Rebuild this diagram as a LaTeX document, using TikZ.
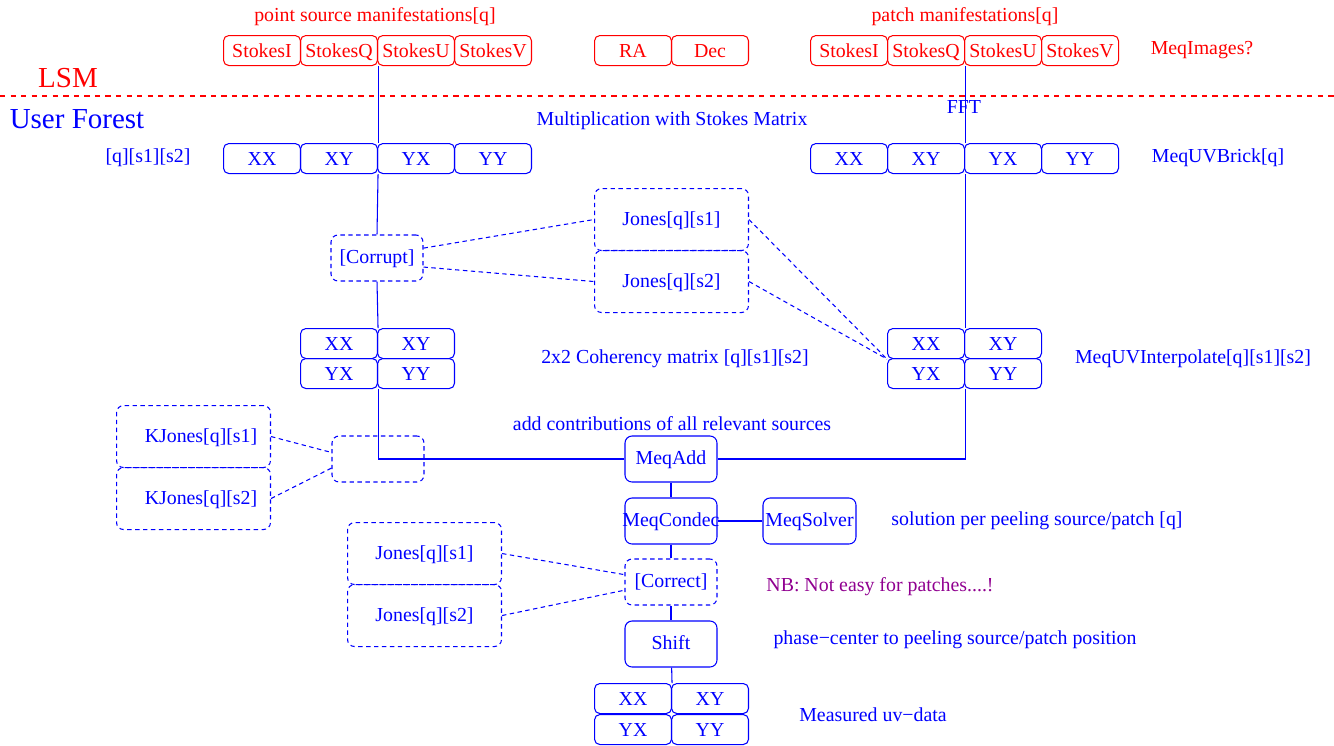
\documentclass[tikz,border=0pt]{standalone}
\usepackage{fontspec}
\setmainfont{Liberation Serif}
\definecolor{nbpurple}{RGB}{144,0,144}
\newcommand*\cellwidth{1.54cm}
\newcommand*\cellheight{0.6cm}
\tikzset{
    every node/.style={font=\fontsize{11.3}{13}\selectfont},
    bigtext/.style={font=\fontsize{16.5}{19}\selectfont},
    cell/.style={
        draw,
        line width=0.6pt,
        rounded corners=3pt,
        anchor=north west,
        inner sep=0pt,
        text height=8.6pt,
        text depth=1pt,
        minimum width=\cellwidth,
        minimum height=\cellheight
    },
    opbox/.style={
        draw,
        blue,
        line width=0.6pt,
        rounded corners=4pt,
        inner sep=0pt,
        text height=8.2pt,
        text depth=1.6pt,
        minimum width=1.84cm,
        minimum height=0.92cm
    },
    dashbox/.style={opbox, dash pattern=on 2.5pt off 2pt},
    jonesbox/.style={dashbox, anchor=north west, minimum width=3.08cm, minimum height=1.24cm},
    link/.style={blue, line width=0.6pt},
    dashlink/.style={blue, line width=0.6pt, dash pattern=on 2.5pt off 2pt}
}

\begin{document}
\begin{tikzpicture}[x=0.02cm,y=-0.02cm]
    \useasboundingbox (0,0) rectangle (1334,745);

    % LSM part, top of the picture.
    \node[red] (pslabel) at (375,17) {point source manifestations[q]};
    \node[red] (pplabel) at (965,17) {patch manifestations[q]};
    \foreach \nm/\txt [count=\i from 0] in {psI/StokesI,psQ/StokesQ,psU/StokesU,psV/StokesV}
        \node[cell, red] (\nm) at (223+77*\i,35) {\txt};
    \node[cell, red] (ra) at (594,35) {RA};
    \node[cell, red] (dec) at (671,35) {Dec};
    \foreach \nm/\txt [count=\i from 0] in {ppI/StokesI,ppQ/StokesQ,ppU/StokesU,ppV/StokesV}
        \node[cell, red] (\nm) at (810+77*\i,35) {\txt};
    \node[red] (images) at (1202,50) {MeqImages?};

    % Divider between LSM and the user forest.
    \node[red, bigtext] (lsm) at (68,78) {LSM};
    \draw[red, line width=1pt, dash pattern=on 3pt off 3pt] (0,96) -- (1334,96);
    \node[blue, bigtext] (forest) at (77,119) {User Forest};

    % Stokes matrix bricks.
    \node[blue] (fft) at (964,107) {FFT};
    \node[blue] (stokesmat) at (672,121) {Multiplication with Stokes Matrix};
    \node[blue] (indices) at (148,158) {[q][s1][s2]};
    \foreach \nm/\txt [count=\i from 0] in {ubXX/XX,ubXY/XY,ubYX/YX,ubYY/YY}
        \node[cell, blue] (\nm) at (223+77*\i,143) {\txt};
    \foreach \nm/\txt [count=\i from 0] in {urXX/XX,urXY/XY,urYX/YX,urYY/YY}
        \node[cell, blue] (\nm) at (810+77*\i,143) {\txt};
    \node[blue] (uvbrick) at (1218,158) {MeqUVBrick[q]};

    % Corruption with the Jones matrices.
    \node[dashbox] (corrupt) at (377,258) {[Corrupt]};
    \node[jonesbox] (jonesA) at (594,188) {Jones[q][s1]};
    \node[jonesbox] (jonesB) at (594,250) {Jones[q][s2]};

    % Coherency matrices.
    \node[cell, blue] (cmXX) at (300,328) {XX};
    \node[cell, blue] (cmXY) at (377,328) {XY};
    \node[cell, blue] (cmYX) at (300,358) {YX};
    \node[cell, blue] (cmYY) at (377,358) {YY};
    \node[blue] (coherency) at (675,359) {2x2 Coherency matrix [q][s1][s2]};
    \node[cell, blue] (rmXX) at (887,328) {XX};
    \node[cell, blue] (rmXY) at (964,328) {XY};
    \node[cell, blue] (rmYX) at (887,358) {YX};
    \node[cell, blue] (rmYY) at (964,358) {YY};
    \node[blue] (interp) at (1193,359) {MeqUVInterpolate[q][s1][s2]};

    % Adding and solving.
    \node[blue] (addlabel) at (672,424) {add contributions of all relevant sources};
    \node[jonesbox] (kjA) at (116,405) {\hspace*{0.3cm}KJones[q][s1]};
    \node[jonesbox] (kjB) at (116,467) {\hspace*{0.3cm}KJones[q][s2]};
    \node[dashbox] (kbox) at (378,459) {};
    \node[opbox] (add) at (671,459) {MeqAdd};
    \node[opbox] (condec) at (671,521) {\makebox[0pt]{MeqCondec}};
    \node[opbox, minimum width=1.86cm] (solver) at (809.5,521) {MeqSolver};
    \node[blue] (solution) at (1037,521) {solution per peeling source/patch [q]};

    % Correction and shift.
    \node[jonesbox] (jcA) at (347,522) {Jones[q][s1]};
    \node[jonesbox] (jcB) at (347,584) {Jones[q][s2]};
    \node[dashbox] (correct) at (671,582) {[Correct]};
    \node[nbpurple] (nb) at (880,587) {NB: Not easy for patches....!};
    \node[opbox] (shift) at (671,644) {Shift};
    \node[blue] (phase) at (955,640) {phase−center to peeling source/patch position};
    \node[cell, blue] (mdXX) at (594,683) {XX};
    \node[cell, blue] (mdXY) at (671,683) {XY};
    \node[cell, blue] (mdYX) at (594,714) {YX};
    \node[cell, blue] (mdYY) at (671,714) {YY};
    \node[blue] (measured) at (873,715) {Measured uv−data};

    % Connectors.
    \draw[link] (psQ.south east) -- (ubXY.north east);
    \draw[link] (ubXY.south east) -- (corrupt.north);
    \draw[link] (corrupt.south) -- (cmXX.north east);
    \draw[link] (cmYX.south east) |- (add.west);
    \draw[link] (ppQ.south east) -- (urXY.north east);
    \draw[link] (urXY.south east) -- (rmXX.north east);
    \draw[link] (rmYX.south east) |- (add.east);
    \draw[link] (add) -- (condec);
    \draw[link] (condec) -- (solver);
    \draw[link] (condec) -- (correct);
    \draw[link] (correct) -- (shift);
    \draw[link] (shift) -- (mdXX.north east);

    \draw[dashlink] (corrupt.12) -- (jonesA.west);
    \draw[dashlink] (corrupt.-11) -- (jonesB.west);
    \draw[dashlink] (jonesA.east) -- (rmXX.south west);
    \draw[dashlink] (jonesB.east) -- (rmXX.south west);
    \draw[dashlink] (kjA.east) -- (kbox.172);
    \draw[dashlink] (kjB.east) -- (kbox.191);
    \draw[dashlink] (jcA.east) -- (correct.171);
    \draw[dashlink] (jcB.east) -- (correct.190);

\end{tikzpicture}
\end{document}
